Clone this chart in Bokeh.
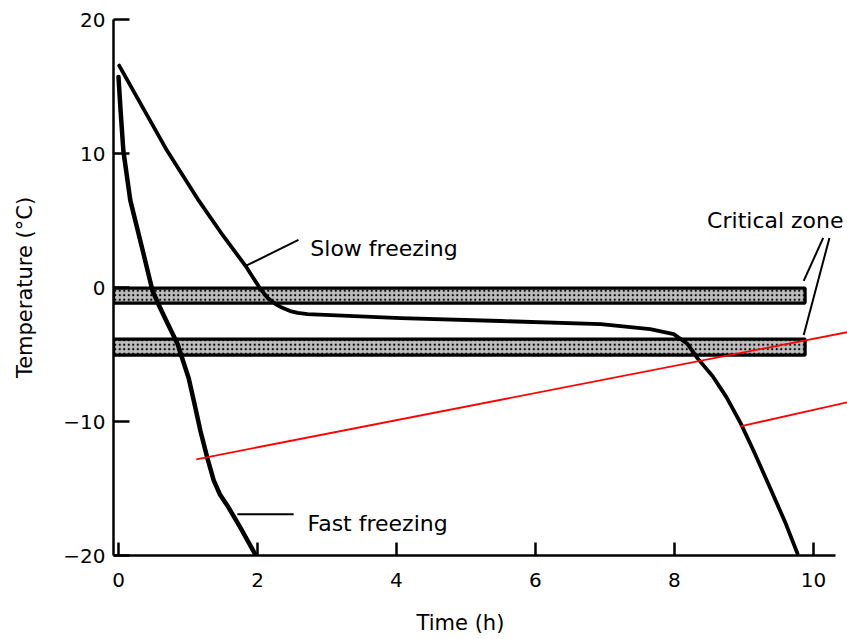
from bokeh.plotting import figure
from bokeh.models import Range1d, FixedTicker
from bokeh.core.properties import value
from bokeh.embed import file_html
from bokeh.resources import INLINE

# ---- data ----
fast_t = [0.0, 0.03, 0.07, 0.17, 0.35, 0.49, 0.60, 0.71, 0.85, 1.01, 1.09, 1.18, 1.28, 1.37, 1.46, 1.57, 1.76, 1.97]
fast_T = [15.7, 13.2, 10.2, 6.5, 2.73, -0.26, -1.53, -2.73, -4.22, -6.77, -8.6, -10.73, -12.75, -14.4, -15.45,
          -16.3, -17.98, -19.93]

slow_t = [0.01, 0.70, 1.14, 1.50, 1.83, 2.04, 2.15, 2.26, 2.35, 2.47, 2.58, 2.72, 4.06, 5.50, 6.94, 7.65, 7.99,
          8.19, 8.33, 8.55, 8.75, 8.95, 9.14, 9.38, 9.60, 9.77]
slow_T = [16.56, 10.2, 6.6, 3.9, 1.6, -0.1, -0.8, -1.23, -1.5, -1.76, -1.9, -1.98, -2.28, -2.50, -2.73, -3.10,
          -3.48, -4.22, -5.27, -6.62, -8.2, -10.1, -12.2, -15.0, -17.6, -19.85]

# critical zone bands
band_left = [-0.072, -0.072]
band_right = [9.88, 9.88]
band_top = [-0.04, -3.85]
band_bottom = [-1.16, -5.05]

# red lines
red1_t = [1.12, 10.49]
red1_T = [-12.82, -3.33]
red2_t = [8.95, 10.49]
red2_T = [-10.36, -8.56]

# leader lines (x0, y0, x1, y1)
lead_x0 = [1.83, 1.71, 10.14, 10.23]
lead_y0 = [1.61, -16.93, 3.7, 3.7]
lead_x1 = [2.59, 2.52, 9.86, 9.86]
lead_y1 = [3.55, -16.93, 0.49, -3.55]

# annotation texts
note_text = ["Slow freezing", "Fast freezing", "Critical zone"]
note_t = [2.76, 2.72, 8.47]
note_T = [2.88, -17.6, 4.97]

x_ticks = [0, 2, 4, 6, 8, 10]
y_ticks = [-20, -10, 0, 10, 20]
y_tick_labels = {-20: "\u221220", -10: "\u221210", 0: "0", 10: "10", 20: "20"}

FONT = "DejaVu Sans"

p = figure(width=847, height=639,
           x_range=Range1d(-0.072, 10.49), y_range=Range1d(-20, 20),
           output_backend="svg", toolbar_location=None,
           min_border_left=113, min_border_right=0, min_border_top=19, min_border_bottom=84)
p.outline_line_color = None
p.xgrid.visible = False
p.ygrid.visible = False
p.background_fill_color = "white"

# axes
xa = p.xaxis[0]
xa.ticker = FixedTicker(ticks=x_ticks)
xa.major_tick_in = 13
xa.major_tick_out = 0
xa.minor_tick_line_color = None
xa.axis_line_width = 2.5
xa.major_tick_line_width = 2.5
xa.major_label_text_font = FONT
xa.major_label_text_font_size = "20px"
xa.major_label_text_color = "black"
xa.major_label_standoff = 17
xa.bounds = (-0.072, 10.32)
# trailing no-break spaces shift the centred label to the left, as in the reference
xa.axis_label = "Time (h)" + "\u00a0" * 6
xa.axis_label_text_font = FONT
xa.axis_label_text_font_size = "21px"
xa.axis_label_text_font_style = "normal"
xa.axis_label_text_color = "black"
xa.axis_label_standoff = 21

ya = p.yaxis[0]
ya.ticker = FixedTicker(ticks=y_ticks)
ya.major_label_overrides = y_tick_labels
ya.major_tick_in = 16
ya.major_tick_out = 0
ya.minor_tick_line_color = None
ya.axis_line_width = 2.5
ya.major_tick_line_width = 2.5
ya.major_label_text_font = FONT
ya.major_label_text_font_size = "20px"
ya.major_label_text_color = "black"
ya.major_label_standoff = 8
ya.axis_label = "Temperature (\u00b0C)"
ya.axis_label_text_font = FONT
ya.axis_label_text_font_size = "21px"
ya.axis_label_text_font_style = "normal"
ya.axis_label_text_color = "black"
ya.axis_label_standoff = 23

# bands
p.quad(left=band_left, right=band_right, top=band_top, bottom=band_bottom,
       fill_color="#bdbdbd", hatch_pattern="dot", hatch_color="black", hatch_scale=4.5, hatch_weight=3.8,
       line_color="black", line_width=3.2)

# curves
p.line(fast_t, fast_T, line_color="black", line_width=4.5, line_join="round", line_cap="round")
p.line(slow_t, slow_T, line_color="black", line_width=3.8, line_join="round", line_cap="round")

# leader lines
p.segment(x0=lead_x0, y0=lead_y0, x1=lead_x1, y1=lead_y1, line_color="black", line_width=2)

# red lines
p.line(red1_t, red1_T, line_color="#ff0000", line_width=1.8)
p.line(red2_t, red2_T, line_color="#ff0000", line_width=1.8)

# annotations
p.text(x=note_t, y=note_T, text=note_text, text_font=value(FONT), text_font_size="22px",
       text_color="black", text_baseline="alphabetic", text_align="left")

open("out.html", "w").write(file_html(p, INLINE))
